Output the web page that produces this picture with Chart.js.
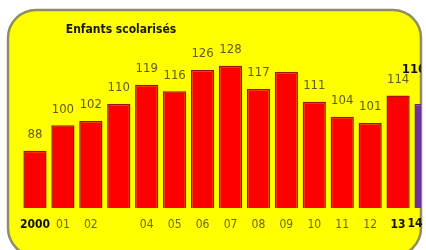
<!DOCTYPE html>
<html><head><meta charset="utf-8">
<script src="https://cdn.jsdelivr.net/npm/chart.js@4/dist/chart.umd.min.js"></script>
<style>
html,body{margin:0;padding:0;background:#fff;overflow:hidden;width:426px;height:250px;}
#wrap{position:absolute;left:0;top:0;width:446px;height:250px;}
</style></head>
<body>
<div id="wrap"><canvas id="c" width="446" height="250"></canvas></div>
<script>
const title = "Enfants scolarisés";
const categories = ["2000","01","02","","04","05","06","07","08","09","10","11","12","13","14"];
const values = [88,100,102,110,119,116,126,128,117,125,111,104,101,114,110];
const valueLabels = ["88","100","102","110","119","116","126","128","117","","111","104","101","114","110"];
const boldTicks = ["2000","13","14"];

const FONT = "'Liberation Sans Narrow','DejaVu Sans Condensed','Liberation Sans',sans-serif";
const PANEL = {x:8,y:10,w:413,h:246,r:28};

function panelPath(ctx){
  ctx.beginPath();
  ctx.roundRect(PANEL.x,PANEL.y,PANEL.w,PANEL.h,PANEL.r);
}

const panelPlugin = {
  id:'panel',
  beforeDraw(chart){
    const ctx = chart.ctx;
    ctx.save();
    panelPath(ctx);
    ctx.fillStyle = '#ffff00';
    ctx.fill();
    ctx.lineWidth = 2.5;
    ctx.strokeStyle = '#8e8e62';
    ctx.stroke();
    ctx.fillStyle = '#1a1a00';
    ctx.font = "bold 12px " + FONT;
    ctx.textAlign = 'center';
    ctx.textBaseline = 'middle';
    ctx.fillText(title, 121, 30);
    ctx.restore();
  },
  beforeDatasetsDraw(chart){
    const ctx = chart.ctx;
    ctx.save();
    panelPath(ctx);
    ctx.clip();
  },
  afterDatasetsDraw(chart){
    const ctx = chart.ctx;
    const meta = chart.getDatasetMeta(0);
    ctx.textAlign = 'center';
    ctx.textBaseline = 'middle';
    meta.data.forEach((bar,i)=>{
      const t = valueLabels[i];
      if(!t) return;
      const last = i === values.length-1;
      if(last){
        ctx.font = "bold 13px " + FONT;
        ctx.fillStyle = '#111100';
        ctx.fillText(t, bar.x-12, bar.y-34);
      } else {
        ctx.font = "13px " + FONT;
        ctx.fillStyle = '#5e5e10';
        ctx.fillText(t, bar.x, bar.y-16);
      }
    });
    ctx.restore();
  },
  afterDraw(chart){
    // last tick label sits left of its bar in the reference
    const ctx = chart.ctx;
    const xs = chart.scales.x;
    const i = categories.length-1;
    ctx.save();
    ctx.font = "bold 12px " + FONT;
    ctx.fillStyle = '#111100';
    ctx.textAlign = 'center';
    ctx.textBaseline = 'middle';
    ctx.fillText(categories[i], xs.getPixelForTick(i)-11, 224);
    ctx.restore();
  }
};

new Chart(document.getElementById('c'),{
  type:'bar',
  data:{
    labels:categories,
    datasets:[{
      data:values,
      backgroundColor: values.map((v,i)=> i===values.length-1 ? '#7030a0' : '#ff0000'),
      borderColor: values.map((v,i)=> i===values.length-1 ? '#5a2a86' : '#a01010'),
      borderWidth:1.5,
      borderSkipped:false,
      barPercentage:0.83,
      categoryPercentage:1
    }]
  },
  options:{
    responsive:false,
    animation:false,
    devicePixelRatio:1,
    layout:{padding:{left:21,right:6,top:55,bottom:0}},
    plugins:{legend:{display:false},tooltip:{enabled:false},title:{display:false}},
    scales:{
      x:{
        grid:{display:false,drawTicks:false},
        border:{display:false},
        ticks:{
          padding:10,
          autoSkip:false,
          maxRotation:0,
          color:(c)=> c.index === categories.length-1 ? 'rgba(0,0,0,0)' : (boldTicks.includes(categories[c.index]) ? '#111100' : '#6a6a18'),
          font:(c)=> ({family:FONT,size:12,weight: boldTicks.includes(categories[c.index]) ? 'bold':'normal'})
        },
        afterFit:(s)=>{ s.height = 42; }
      },
      y:{display:false,min:61,max:133}
    }
  },
  plugins:[panelPlugin]
});
</script>
</body></html>
